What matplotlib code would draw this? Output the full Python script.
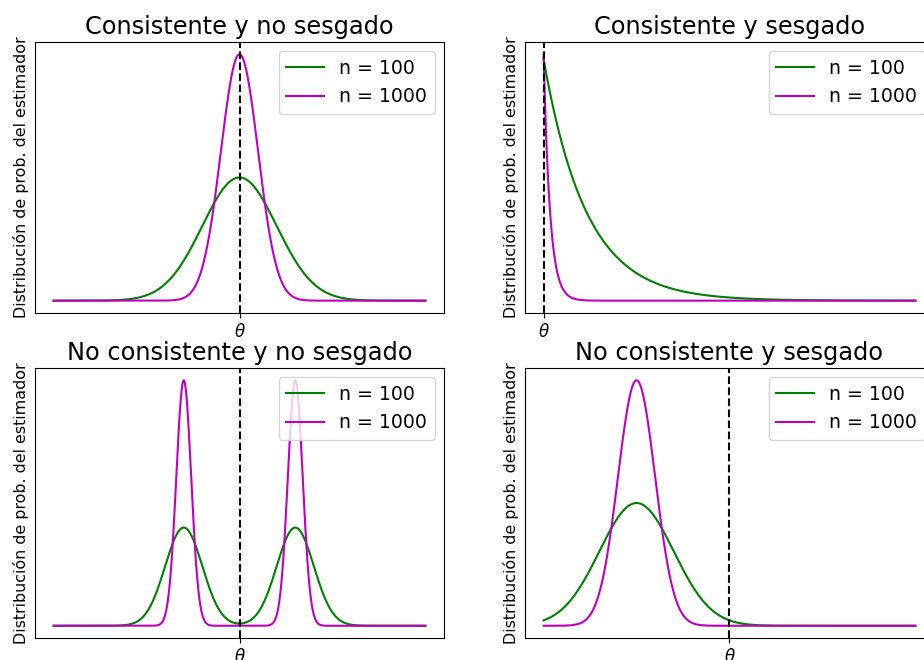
import numpy as np
import matplotlib
matplotlib.use('Agg')
import matplotlib.pyplot as plt

# parametros (theta = 0)
titulos = ['Consistente y no sesgado', 'Consistente y sesgado',
           'No consistente y no sesgado', 'No consistente y sesgado']
etiquetas = ['n = 100', 'n = 1000']
colores = ['g', 'm']

# Consistente y no sesgado: normal centrada en theta
media_1 = [0.0, 0.0]
sigma_1 = [1.0, 0.5]
# Consistente y sesgado: decaimiento exponencial desde theta
escala_2 = [1.15, 0.17]
altura_2 = [0.98, 1.0]
# No consistente y no sesgado: dos modos simetricos
modos_3 = [-1.5, 1.5]
sigma_3 = [0.5, 0.2]
# No consistente y sesgado: normal desplazada
media_4 = [-2.5, -2.5]
sigma_4 = [1.0, 0.5]

rango_x = [(-5, 5), (0, 10), (-5, 5), (-5, 5)]


def normal(x, mu, s):
    return np.exp(-0.5 * ((x - mu) / s) ** 2) / (s * np.sqrt(2 * np.pi))


def curvas(k, x):
    res = []
    for i in range(2):
        if k == 0:
            res.append(normal(x, media_1[i], sigma_1[i]))
        elif k == 1:
            res.append(altura_2[i] * np.exp(-x / escala_2[i]))
        elif k == 2:
            res.append(0.5 * normal(x, modos_3[0], sigma_3[i]) + 0.5 * normal(x, modos_3[1], sigma_3[i]))
        else:
            res.append(normal(x, media_4[i], sigma_4[i]))
    return res


fig = plt.figure(figsize=(9.24, 6.6), dpi=100)
pos = [[0.0379, 0.5258, 0.4426, 0.4106], [0.5682, 0.5258, 0.4426, 0.4106],
       [0.0379, 0.0333, 0.4426, 0.4091], [0.5682, 0.0333, 0.4426, 0.4091]]

for k in range(4):
    ax = fig.add_axes(pos[k])
    x = np.linspace(rango_x[k][0], rango_x[k][1], 1000)
    ys = curvas(k, x)
    for i in range(2):
        ax.plot(x, ys[i], color=colores[i], linewidth=1.5, label=etiquetas[i])
    ax.axvline(0, color='k', linestyle='--', linewidth=1.5)
    ax.set_xticks([0])
    ax.set_xticklabels([r'$\theta$'], fontsize=12)
    ax.set_yticks([])
    ax.set_ylabel('Distribución de prob. del estimador', fontsize=11.4)
    ax.set_title(titulos[k], fontsize=17.3)
    ax.legend(loc='upper right', fontsize=13.6)

fig.savefig('out.png', dpi=100)
